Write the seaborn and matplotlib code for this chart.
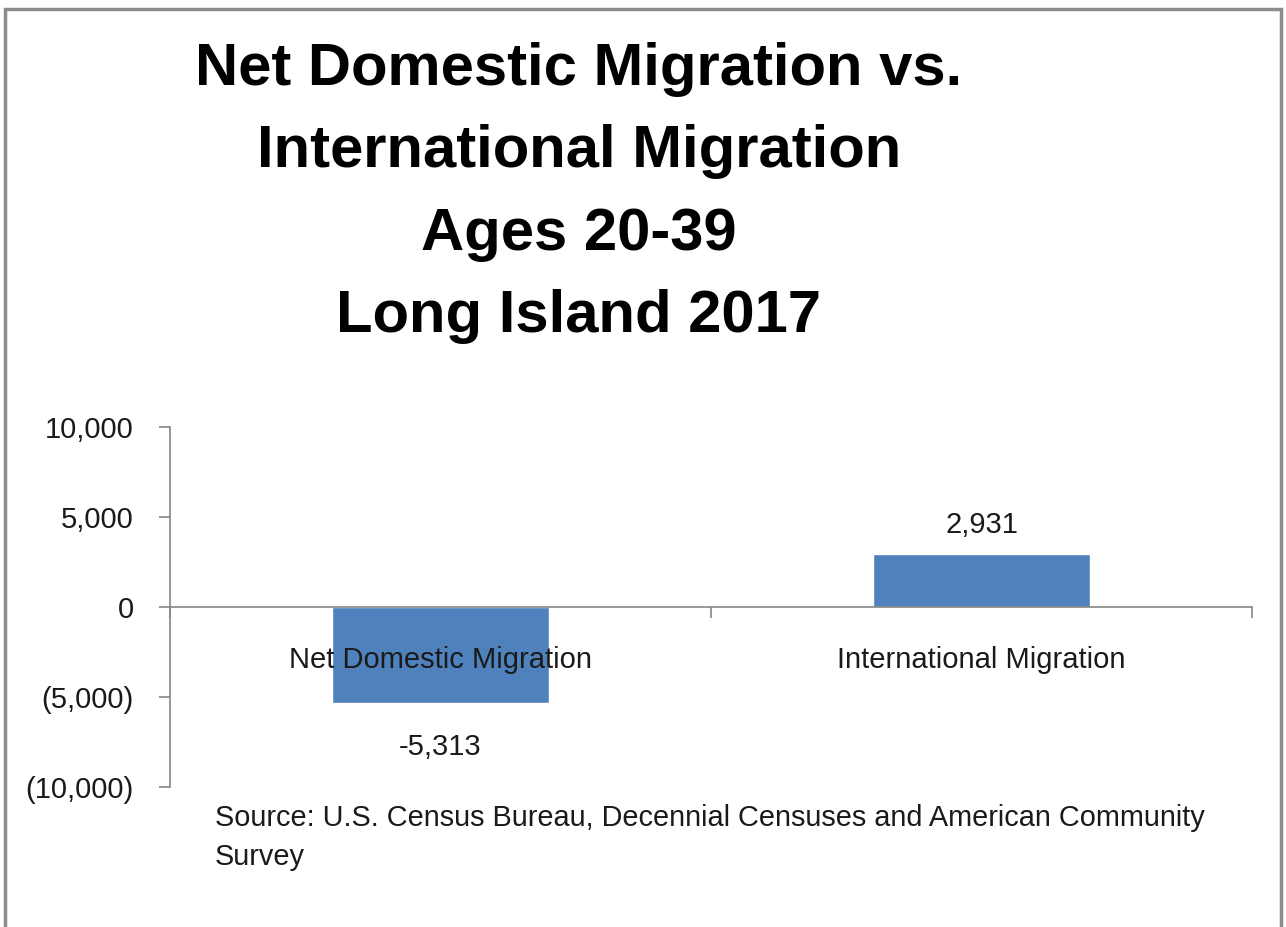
import matplotlib
matplotlib.use("Agg")
import matplotlib.pyplot as plt
import seaborn as sns
from matplotlib.patches import Rectangle
from matplotlib.ticker import FuncFormatter, FixedLocator

# data
categories = ["Net Domestic Migration", "International Migration"]
values = [-5313, 2931]
title_lines = ["Net Domestic Migration vs.", "International Migration",
               "Ages 20-39", "Long Island 2017"]
source = "Source: U.S. Census Bureau, Decennial Censuses and American Community\nSurvey"

sns.set_theme(style="white")
plt.rcParams["font.family"] = ["Liberation Sans", "DejaVu Sans"]

bar_color = "#4F81BD"
gray = "#868686"
txt = "#1a1a1a"

fig = plt.figure(figsize=(12.86, 9.27), dpi=100)
ax = fig.add_axes([0.1322, 0.1510, 0.8414, 0.3883])

sns.barplot(x=categories, y=values, color=bar_color, saturation=1,
            width=0.4, ax=ax)

ax.set_xlim(-0.5, 1.5)
ax.set_ylim(-10000, 10000)
ax.set_yticks([-10000, -5000, 0, 5000, 10000])

def fmt(v, pos):
    if v < 0:
        return "({:,.0f})".format(-v)
    return "{:,.0f}".format(v)

ax.yaxis.set_major_formatter(FuncFormatter(fmt))
ax.tick_params(axis="y", which="major", direction="out", length=8, width=1.2,
               color=gray, pad=18, labelsize=21, labelcolor=txt, left=True)

# category axis sits on zero, labels drawn over the bars
for s in ["top", "right"]:
    ax.spines[s].set_visible(False)
ax.spines["left"].set_color(gray)
ax.spines["left"].set_linewidth(1.2)
ax.spines["bottom"].set_position(("data", 0))
ax.spines["bottom"].set_color(gray)
ax.spines["bottom"].set_linewidth(1.2)
ax.spines["bottom"].set_zorder(4)
ax.xaxis.set_zorder(5)
ax.xaxis.set_minor_locator(FixedLocator([-0.5, 0.5, 1.5]))
ax.tick_params(axis="x", which="major", length=0, pad=28, labelsize=21,
               labelcolor=txt, bottom=True)
ax.tick_params(axis="x", which="minor", direction="out", length=8, width=1.2,
               color=gray, bottom=True)
ax.set_xlabel("")
ax.set_ylabel("")

bars = ax.containers[0]
ax.bar_label(bars, labels=["{:,.0f}".format(v) if v > 0 else "" for v in values],
             padding=11, fontsize=21, color=txt)
ax.bar_label(bars, labels=["{:,.0f}".format(v) if v < 0 else "" for v in values],
             padding=22, fontsize=21, color=txt)

fig.text(0.450, 0.955, "\n".join(title_lines), ha="center", va="top",
         fontsize=43, fontweight="bold", color="black", linespacing=1.64)

fig.text(0.167, 0.097, source, ha="left", va="center", fontsize=20.8,
         color=txt, linespacing=1.5)

# outer chart frame
fig.patches.append(Rectangle((0.004, -0.05), 0.992, 1.04, transform=fig.transFigure,
                             fill=False, edgecolor="#8c8c8c", linewidth=2.5))

fig.savefig("out.png", dpi=100)
